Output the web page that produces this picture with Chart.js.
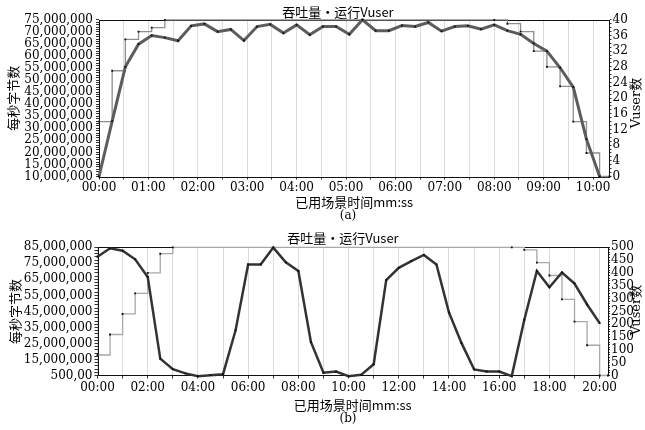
<!DOCTYPE html>
<html>
<head>
<meta charset="utf-8">
<script src="https://cdn.jsdelivr.net/npm/chart.js@4.4.1/dist/chart.umd.min.js"></script>
<style>
  html, body { margin:0; padding:0; background:#ffffff; width:645px; height:430px; overflow:hidden; }
  .box { position:absolute; left:0; width:645px; }
  #boxA { top:0; height:222px; }
  #boxB { top:222px; height:208px; }
</style>
</head>
<body>
<div class="box" id="boxA"><canvas id="chartA"></canvas></div>
<div class="box" id="boxB"><canvas id="chartB"></canvas></div>
<script>
// ================= Chart (a) data =================
const timeA = [0,16,32,48,64,80,96,112,128,144,160,176,192,208,224,240,256,272,288,304,320,336,352,368,384,400,416,432,448,464,480,496,512,528,544,560,576,592,608];
const throughputA = [10000000,33000000,55500000,64900000,68500000,67600000,66300000,72500000,73300000,70100000,
  71000000,66400000,72200000,73100000,69500000,72900000,68800000,72200000,72200000,69000000,
  75000000,70500000,70500000,72600000,72200000,73900000,70300000,72200000,72500000,71100000,
  72900000,70500000,69000000,65200000,62000000,55100000,47100000,25500000,10000000];
const vuserTimeA = [0,16,32,48,64,80,96,112,128,144,160,176,192,208,224,240,256,272,288,304,320,336,352,368,384,400,416,432,448,464,480,496,512,528,544,560,576,592,608,620];
const vuserA = [14,27,35,37,38,40,40,40,40,40,
  40,40,40,40,40,40,40,40,40,40,
  40,40,40,40,40,40,40,40,40,40,
  40,39,37,32,28,23,14,6,0,0];
const yTicksA = [10000000,15000000,20000000,25000000,30000000,35000000,40000000,45000000,50000000,55000000,60000000,65000000,70000000,75000000];
const yLabelsA = ['10,000,000','15,000,000','20,000,000','25,000,000','30,000,000','35,000,000','40,000,000','45,000,000','50,000,000','55,000,000','60,000,000','65,000,000','70,000,000','75,000,000'];
const y1TicksA = [0,4,8,12,16,20,24,28,32,36,40];
const y1LabelsA = ['0','4','8','12','16','20','24','28','32','36','40'];

// ================= Chart (b) data =================
const timeB = [0,30,60,90,120,150,180,210,240,270,300,330,360,390,420,450,480,510,540,570,600,630,660,690,720,750,780,810,840,870,900,930,960,990,1020,1050,1080,1110,1140,1170,1200];
const throughputB = [79100000,84400000,82900000,77500000,66500000,15500000,9000000,6300000,4600000,5200000,
  5800000,33200000,74300000,74300000,84800000,75600000,70200000,25900000,6700000,7500000,
  4600000,5400000,12000000,64500000,72200000,76400000,80200000,74300000,44300000,25200000,
  8800000,7500000,7500000,4600000,39800000,70200000,60100000,69300000,62400000,49300000,
  37700000];
const vuserTimeB = [0,30,60,90,120,150,180,210,240,270,300,330,360,390,420,450,480,510,540,570,600,630,660,690,720,750,780,810,840,870,900,930,960,990,1020,1050,1080,1110,1140,1170,1200,1220];
const vuserB = [80,160,240,320,400,475,500,500,500,500,
  500,500,500,500,500,500,500,500,500,500,
  500,500,500,500,500,500,500,500,500,500,
  500,500,500,500,490,440,390,297,210,118,
  0,0];
const yTicksB = [5000000,15000000,25000000,35000000,45000000,55000000,65000000,75000000,85000000];
const yLabelsB = ['500,00','15,000,000','25,000,000','35,000,000','45,000,000','55,000,000','65,000,000','75,000,000','85,000,000'];
const y1TicksB = [0,50,100,150,200,250,300,350,400,450,500];
const y1LabelsB = ['0','50','100','150','200','250','300','350','400','450','500'];

const chartTitle = '吞吐量•运行Vuser';
const xTitle = '已用场景时间mm:ss';
const yTitle = '每秒字节数';
const y1Title = 'Vuser数';

// ================= helpers =================
const SERIF = "'DejaVu Serif','Liberation Serif','Noto Sans CJK SC',serif";
const CJK = "'Noto Sans CJK SC','DejaVu Serif',sans-serif";

function pts(xs, ys) { return xs.map((x, i) => ({ x: x, y: ys[i] })); }
function mmss(s) {
  const m = Math.floor(s / 60), r = s % 60;
  return String(m).padStart(2, '0') + ':' + String(r).padStart(2, '0');
}
function minorTicks(major, step) {
  return function (scale) {
    const lo = major[0], hi = major[major.length - 1];
    const t = [];
    for (let v = lo; v <= hi + 1e-6; v += step) t.push({ value: v });
    scale.ticks = t;
  };
}
function labelFrom(major, labels) {
  return function (value) {
    const i = major.indexOf(value);
    return i >= 0 ? labels[i] : '';
  };
}
// markers only where the step value changes (plateau interiors carry no marker)
function stepMarkerRadius(vals) {
  return function (ctx) {
    const i = ctx.dataIndex;
    if (i > 0 && i < vals.length - 1 && vals[i] === vals[i - 1] && vals[i] === vals[i + 1]) return 0;
    return 1.3;
  };
}

const framePlugin = {
  id: 'frame',
  beforeDatasetsDraw(chart) {
    const a = chart.chartArea, ctx = chart.ctx;
    ctx.save();
    ctx.strokeStyle = '#111';
    ctx.lineWidth = 1;
    ctx.strokeRect(Math.round(a.left) + 0.5, Math.round(a.top) + 0.5,
      Math.round(a.right - a.left) - 1, Math.round(a.bottom - a.top));
    ctx.restore();
  },
  afterDraw(chart, args, o) {
    const ctx = chart.ctx;
    ctx.save();
    ctx.fillStyle = '#000';
    ctx.textAlign = 'center';
    ctx.textBaseline = 'middle';
    ctx.font = '13px ' + CJK;
    ctx.fillText(o.title, o.titleX, o.titleY);
    ctx.font = '12px ' + SERIF;
    ctx.fillText(o.caption, o.capX, o.capY);
    ctx.translate(o.rtX, o.rtY);
    ctx.rotate(-Math.PI / 2);
    ctx.font = '13px ' + SERIF;
    ctx.fillText(o.rightTitle, 0, 0);
    ctx.restore();
  }
};

function build(canvasId, p) {
  return new Chart(document.getElementById(canvasId), {
    type: 'line',
    data: {
      datasets: [
        {
          label: '吞吐量',
          data: pts(p.tTime, p.tVals),
          yAxisID: 'y',
          borderColor: p.tColor,
          borderWidth: p.tWidth,
          pointStyle: 'rect',
          pointRadius: 1.3,
          pointBackgroundColor: '#111',
          pointBorderWidth: 0,
          tension: 0,
          clip: 5
        },
        {
          label: '运行Vuser',
          data: pts(p.vTime, p.vVals),
          yAxisID: 'y1',
          stepped: true,
          borderColor: p.vColor,
          borderWidth: 1.3,
          pointStyle: 'rect',
          pointRadius: stepMarkerRadius(p.vVals),
          pointBackgroundColor: '#111',
          pointBorderWidth: 0,
          clip: 5
        }
      ]
    },
    options: {
      responsive: true,
      maintainAspectRatio: false,
      animation: false,
      layout: { padding: { top: p.top, left: 0, right: 0, bottom: 0 } },
      plugins: {
        legend: { display: false },
        tooltip: { enabled: false },
        frame: p.frame
      },
      scales: {
        x: {
          type: 'linear',
          min: 0,
          max: p.xMax,
          border: { display: false },
          grid: { color: '#dcdcdc', lineWidth: 1, tickColor: '#333', tickLength: 3 },
          ticks: {
            stepSize: p.xStep,
            includeBounds: false,
            autoSkip: false,
            minRotation: 0,
            maxRotation: 0,
            padding: p.xPad,
            color: '#000',
            font: { family: SERIF, size: 12 },
            callback: (v) => (v % p.xLabelEvery === 0 ? mmss(v) : '')
          },
          title: {
            display: true,
            text: xTitle,
            color: '#000',
            font: { family: CJK, size: 13 },
            padding: { top: 0, bottom: p.xTitlePad }
          },
          afterFit: (s) => { s.height = p.xHeight; }
        },
        y: {
          type: 'linear',
          position: 'left',
          min: p.yTicks[0],
          max: p.yTicks[p.yTicks.length - 1],
          border: { display: false },
          grid: { drawOnChartArea: false, tickColor: '#333', tickLength: 3 },
          afterBuildTicks: minorTicks(p.yTicks, p.yMinor),
          ticks: {
            autoSkip: false,
            padding: p.yPad,
            color: '#000',
            font: { family: SERIF, size: 12 },
            callback: labelFrom(p.yTicks, p.yLabels)
          },
          title: {
            display: true,
            text: yTitle,
            color: '#000',
            font: { family: CJK, size: 13 },
            padding: { top: p.yTitlePad, bottom: 0 }
          },
          afterFit: (s) => { s.width = p.left; }
        },
        y1: {
          type: 'linear',
          position: 'right',
          min: p.y1Ticks[0],
          max: p.y1Ticks[p.y1Ticks.length - 1],
          border: { display: false },
          grid: { drawOnChartArea: false, tickColor: '#333', tickLength: 2 },
          afterBuildTicks: minorTicks(p.y1Ticks, p.y1Minor),
          ticks: {
            autoSkip: false,
            padding: 1,
            color: '#000',
            font: { family: SERIF, size: 12 },
            callback: labelFrom(p.y1Ticks, p.y1Labels)
          },
          afterFit: (s) => { s.width = p.right; }
        }
      }
    },
    plugins: [framePlugin]
  });
}

build('chartA', {
  tTime: timeA, tVals: throughputA, vTime: vuserTimeA, vVals: vuserA,
  tColor: '#5c5c5c', tWidth: 3, vColor: '#8f8f8f',
  top: 19.8, left: 99, right: 35.5, xHeight: 45.5, xMax: 620, xStep: 30, xLabelEvery: 60,
  xPad: 1, xTitlePad: 12.5, yPad: 3, yTitlePad: 5,
  yTicks: yTicksA, yLabels: yLabelsA, yMinor: 1000000,
  y1Ticks: y1TicksA, y1Labels: y1LabelsA, y1Minor: 1,
  frame: { title: chartTitle, titleX: 338, titleY: 12, caption: '(a)', capX: 348, capY: 216,
           rightTitle: y1Title, rtX: 637, rtY: 103 }
});

build('chartB', {
  tTime: timeB, tVals: throughputB, vTime: vuserTimeB, vVals: vuserB,
  tColor: '#333333', tWidth: 2.5, vColor: '#a8a8a8',
  top: 25.3, left: 97.5, right: 37, xHeight: 54.5, xMax: 1220, xStep: 60, xLabelEvery: 120,
  xPad: 2, xTitlePad: 17.2, yPad: 2, yTitlePad: 7,
  yTicks: yTicksB, yLabels: yLabelsB, yMinor: 2000000,
  y1Ticks: y1TicksB, y1Labels: y1LabelsB, y1Minor: 10,
  frame: { title: chartTitle, titleX: 343, titleY: 16, caption: '(b)', capX: 348, capY: 197,
           rightTitle: y1Title, rtX: 637, rtY: 88 }
});
</script>
</body>
</html>
